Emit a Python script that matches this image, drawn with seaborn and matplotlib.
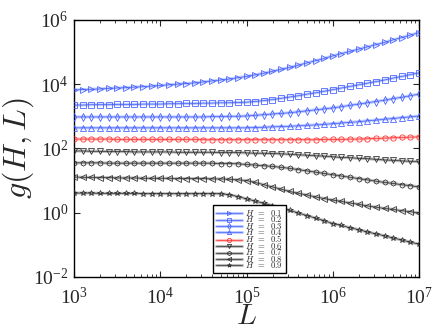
import numpy as np
import matplotlib
matplotlib.use("Agg")
import matplotlib.pyplot as plt
import seaborn as sns

# log10(L) grid, 0.1 decade steps
logL = np.round(np.arange(3.0, 7.01, 0.1), 2)

H_values = [0.1, 0.2, 0.3, 0.4, 0.5, 0.6, 0.7, 0.8, 0.9]

# log10 g(H, L)
g_01 = [3.82, 3.83, 3.84, 3.85, 3.87, 3.88, 3.89, 3.91, 3.92, 3.94,
        3.96, 3.98, 4.00, 4.02, 4.04, 4.07, 4.10, 4.13, 4.16, 4.20,
        4.24, 4.29, 4.34, 4.40, 4.46, 4.52, 4.59, 4.66, 4.73, 4.80,
        4.88, 4.95, 5.02, 5.09, 5.16, 5.23, 5.30, 5.38, 5.45, 5.53, 5.60]
g_02 = [3.35, 3.35, 3.36, 3.36, 3.36, 3.37, 3.37, 3.37, 3.38, 3.38,
        3.38, 3.39, 3.39, 3.40, 3.40, 3.41, 3.41, 3.42, 3.42, 3.43,
        3.44, 3.46, 3.49, 3.52, 3.56, 3.60, 3.64, 3.69, 3.73, 3.78,
        3.83, 3.88, 3.93, 3.98, 4.03, 4.08, 4.13, 4.19, 4.24, 4.30, 4.35]
g_03 = [2.98, 2.98, 2.98, 2.98, 2.98, 2.98, 2.98, 2.98, 2.98, 2.98,
        2.98, 2.98, 2.98, 2.98, 2.98, 2.98, 2.99, 2.99, 3.00, 3.00,
        3.01, 3.03, 3.05, 3.07, 3.09, 3.11, 3.14, 3.17, 3.20, 3.23,
        3.26, 3.30, 3.34, 3.38, 3.42, 3.46, 3.50, 3.55, 3.59, 3.64, 3.69]
g_04 = [2.64, 2.64, 2.64, 2.64, 2.64, 2.64, 2.64, 2.64, 2.64, 2.64,
        2.64, 2.64, 2.64, 2.64, 2.64, 2.64, 2.64, 2.64, 2.64, 2.64,
        2.64, 2.65, 2.66, 2.67, 2.68, 2.69, 2.70, 2.72, 2.73, 2.75,
        2.77, 2.79, 2.81, 2.83, 2.86, 2.88, 2.91, 2.93, 2.96, 2.98, 3.01]
g_05 = [2.29, 2.29, 2.29, 2.29, 2.29, 2.28, 2.28, 2.28, 2.28, 2.28,
        2.28, 2.28, 2.28, 2.28, 2.28, 2.27, 2.27, 2.27, 2.27, 2.27,
        2.27, 2.27, 2.27, 2.27, 2.27, 2.27, 2.27, 2.27, 2.27, 2.28,
        2.28, 2.28, 2.29, 2.29, 2.30, 2.31, 2.32, 2.33, 2.34, 2.35, 2.36]
g_06 = [1.92, 1.92, 1.91, 1.91, 1.90, 1.90, 1.90, 1.89, 1.89, 1.89,
        1.89, 1.89, 1.88, 1.88, 1.88, 1.88, 1.88, 1.87, 1.87, 1.87,
        1.86, 1.85, 1.85, 1.84, 1.83, 1.82, 1.80, 1.79, 1.77, 1.76,
        1.74, 1.72, 1.71, 1.69, 1.68, 1.66, 1.64, 1.63, 1.61, 1.60, 1.58]
g_07 = [1.55, 1.55, 1.55, 1.55, 1.54, 1.54, 1.54, 1.54, 1.54, 1.54,
        1.54, 1.54, 1.54, 1.54, 1.54, 1.54, 1.54, 1.53, 1.53, 1.52,
        1.50, 1.48, 1.46, 1.44, 1.41, 1.38, 1.34, 1.30, 1.26, 1.22,
        1.18, 1.14, 1.10, 1.06, 1.02, 0.98, 0.94, 0.91, 0.87, 0.84, 0.80]
g_08 = [1.11, 1.10, 1.10, 1.09, 1.09, 1.08, 1.08, 1.08, 1.07, 1.07,
        1.07, 1.07, 1.06, 1.06, 1.06, 1.06, 1.05, 1.05, 1.04, 1.02,
        1.00, 0.94, 0.87, 0.80, 0.73, 0.66, 0.60, 0.55, 0.49, 0.44,
        0.39, 0.35, 0.30, 0.26, 0.21, 0.17, 0.13, 0.10, 0.06, 0.03, -0.01]
g_09 = [0.61, 0.61, 0.61, 0.60, 0.60, 0.60, 0.60, 0.60, 0.59, 0.59,
        0.59, 0.59, 0.59, 0.59, 0.59, 0.59, 0.59, 0.59, 0.56, 0.50,
        0.43, 0.36, 0.29, 0.22, 0.15, 0.07, -0.01, -0.09, -0.17, -0.25,
        -0.34, -0.40, -0.47, -0.53, -0.60, -0.66, -0.72, -0.79, -0.85, -0.92, -0.98]

series = [g_01, g_02, g_03, g_04, g_05, g_06, g_07, g_08, g_09]
markers = ['>', 's', 'd', '^', 'o', 'v', 'h', '<', '*']
blue, red, dark = '#3f5bff', '#ff2a2a', '#2a2a2a'
colors = [blue] * 4 + [red] + [dark] * 4
backs = ['#c0cbff'] * 4 + ['#ffc0c0'] + ['#bdbdbd'] * 4

sns.set_style('ticks')
plt.rcParams['font.family'] = ['Liberation Serif', 'DejaVu Serif']
plt.rcParams['mathtext.fontset'] = 'cm'

fig = plt.figure(figsize=(4.36, 3.32), dpi=100)
ax = fig.add_axes([0.170, 0.166, 0.791, 0.774])

L = 10.0 ** logL
handles = []
for H, g, m, c, b in zip(H_values, series, markers, colors, backs):
    y = 10.0 ** np.array(g)
    sns.lineplot(x=L, y=y, ax=ax, color=b, lw=2.2, zorder=2)
    sns.lineplot(x=L, y=y, ax=ax, color=c, lw=0.5, marker=m, ms=3.8,
                 mfc='none', mec=c, mew=0.55, zorder=3)
    back = ax.lines[-2]
    front = ax.lines[-1]
    handles.append(((back, front), rf'$H\;\;=\;\;{H}$'))

ax.set_xscale('log')
ax.set_yscale('log')
ax.set_xlim(1e3, 1e7)
ax.set_ylim(1e-2, 1e6)
ax.set_yticks([1e-2, 1e0, 1e2, 1e4, 1e6])
ax.yaxis.set_minor_locator(matplotlib.ticker.NullLocator())
ax.tick_params(which='both', direction='in', top=True, right=True,
               labelsize=14)
ax.tick_params(axis='x', pad=7)
ax.tick_params(axis='y', pad=4)
ax.tick_params(which='major', length=4, width=0.8)
ax.tick_params(which='minor', length=2, width=0.6)
for s in ax.spines.values():
    s.set_linewidth(1.0)
    s.set_color('black')

ax.set_xlabel(r'$L$', fontsize=21, labelpad=-3)
ax.set_ylabel(r'$g(H, L)$', fontsize=23, labelpad=-2)

leg = ax.legend([h for h, _ in handles], [t for _, t in handles],
                loc='lower left', bbox_to_anchor=(0.40, 0.01),
                fontsize=6.2, handlelength=3.0, handleheight=0.4,
                labelspacing=-0.42, borderpad=0.4, handletextpad=0.3,
                borderaxespad=0.1, numpoints=1, markerscale=0.8,
                frameon=True, fancybox=False, edgecolor='black',
                framealpha=1)
leg.get_frame().set_linewidth(1.0)
for h in leg.legend_handles:
    pass

fig.savefig('out.png', dpi=100)
